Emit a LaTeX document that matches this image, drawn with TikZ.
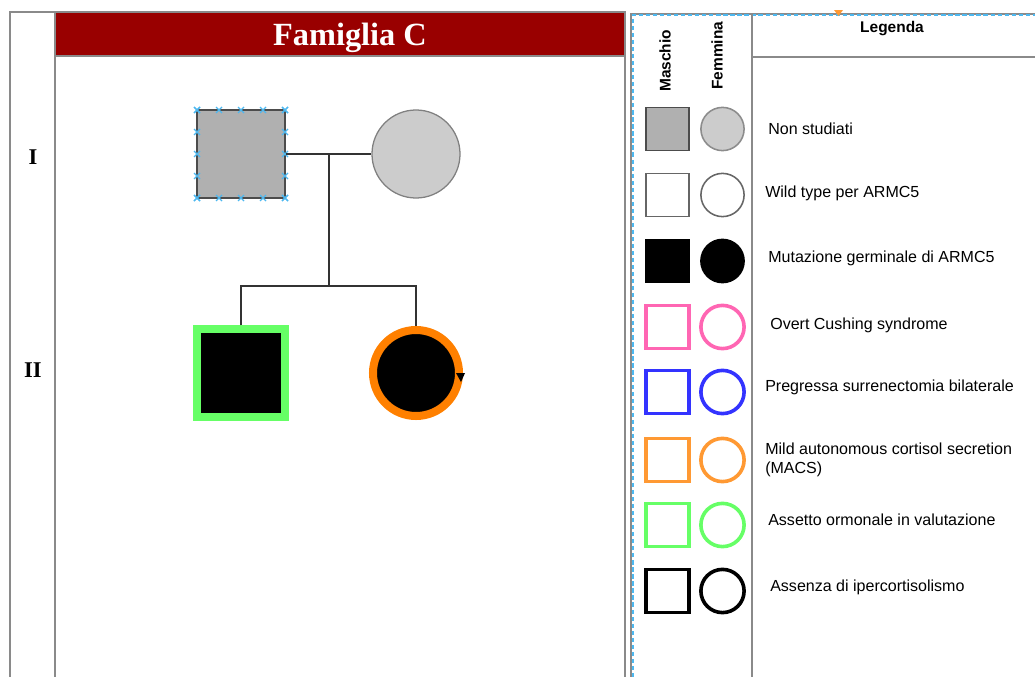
\documentclass[tikz,border=0pt]{standalone}
\usepackage{fontspec}
\setmainfont{Liberation Sans}
\newfontfamily\serifbold{Liberation Serif}
\usetikzlibrary{positioning}

\definecolor{bandred}{HTML}{990000}
\definecolor{framegray}{HTML}{8A8A8A}
\definecolor{nsdark}{HTML}{B0B0B0}
\definecolor{nslight}{HTML}{CCCCCC}
\definecolor{ocspink}{HTML}{FF66B3}
\definecolor{surblue}{HTML}{3333FF}
\definecolor{macsorange}{HTML}{FF9933}
\definecolor{evalgreen}{HTML}{66FF66}
\definecolor{probandorange}{HTML}{FF8000}
\definecolor{selblue}{HTML}{4DB8F0}

\tikzset{
  male/.style={draw, rectangle, inner sep=0pt, minimum size=#1},
  female/.style={draw, circle, inner sep=0pt, minimum size=#1},
  frame/.style={draw=framegray, line width=1.2pt},
  link/.style={draw=black!80, line width=0.8pt},
  legtext/.style={anchor=west, inner sep=0pt, font=\fontsize{11.4}{14}\selectfont, align=left},
  selmark/.style={draw=selblue, line width=1pt},
}

\begin{document}
\begin{tikzpicture}[x=0.025cm, y=-0.025cm]
    \useasboundingbox (0,0) rectangle (1035,677);

    % Pedigree frame.
    \fill[bandred] (55,12) rectangle (625,56);
    \draw[frame] (10,677) -- (10,12) -- (625,12) -- (625,677);
    \draw[frame] (55,677) -- (55,12);
    \draw[frame] (55,56) -- (625,56);
    \node[text=white, font=\serifbold\bfseries\fontsize{23}{27}\selectfont] (title) at (350,38) {Famiglia C};
    \node[font=\serifbold\bfseries\fontsize{16}{19}\selectfont] (genI) at (33,157) {I};
    \node[font=\serifbold\bfseries\fontsize{16}{19}\selectfont] (genII) at (33,370) {II};

    % Generation I.
    \node[male=2.2cm, fill=nsdark, draw=black!70, line width=0.9pt] (father) at (241,154) {};
    \node[female=2.2cm, fill=nslight, draw=black!50, line width=0.9pt] (mother) at (416,154) {};
    \foreach \t in {0,22,44,66,88} {
        \foreach \p in {(197+\t,110), (197+\t,198), (197,110+\t), (285,110+\t)} {
            \path \p coordinate (sel);
            \draw[selmark] (sel) ++(-3,-3) -- ++(6,6) (sel) ++(-3,3) -- ++(6,-6);
        }
    }

    % Generation II.
    \node[male=2.175cm, fill=black, draw=evalgreen, line width=0.2cm] (son) at (241,373) {};
    \node[female=2.15cm, fill=black, draw=probandorange, line width=0.2cm] (daughter) at (416,373) {};
    \fill (456,373) -- (465,373) -- (461,382) -- cycle;

    % Lines of descent.
    \coordinate (union) at (329,154);
    \coordinate (sibs) at (329,286);
    \draw[link] (father.east) -- (mother.west);
    \draw[link] (union) -- (sibs);
    \draw[link] (son.north) |- (sibs);
    \draw[link] (daughter.north) |- (sibs);

    % Legend frame.
    \draw[frame, line width=0.9pt] (631,677) -- (631,14) -- (1035,14);
    \draw[selmark, dashed, dash pattern=on 3pt off 2pt] (633,677) -- (633,15) -- (1035,15);
    \fill[macsorange] (834,10) -- (843,10) -- (838.5,16) -- cycle;
    \draw[frame, line width=0.9pt] (752,14) -- (752,677);
    \draw[frame, line width=0.9pt] (752,57) -- (1035,57);
    \node[font=\bfseries\fontsize{11}{13}\selectfont] (legend) at (892,29) {Legenda};
    \node[rotate=90, anchor=west, inner sep=0pt, font=\bfseries\fontsize{11}{13}\selectfont] (maschio) at (665,92) {Maschio};
    \node[rotate=90, anchor=west, inner sep=0pt, font=\bfseries\fontsize{11}{13}\selectfont] (femmina) at (717,90) {Femmina};

    % Legend rows.
    \foreach \n/\y/\ty/\tx/\fm/\ff/\dm/\df/\lw/\txt in {
        1/129/129/768/nsdark/nslight/black!70/black!45/1.1pt/{Non studiati},
        2/195/193/765/white/white/black!60/black!60/1.1pt/{Wild type per ARMC5},
        3/261/258/768/black/black/black/black/1.1pt/{Mutazione germinale di ARMC5},
        4/327/325/770/white/white/ocspink/ocspink/0.09cm/{Overt Cushing syndrome},
        5/392/387/765/white/white/surblue/surblue/0.09cm/{Pregressa surrenectomia bilaterale},
        6/460/460/765/white/white/macsorange/macsorange/0.09cm/{Mild autonomous cortisol secretion\\(MACS)},
        7/525/520/768/white/white/evalgreen/evalgreen/0.09cm/{Assetto ormonale in valutazione},
        8/591/587/770/white/white/black/black/0.09cm/{Assenza di ipercortisolismo}} {
        \node[male=1.08cm, fill=\fm, draw=\dm, line width=\lw] (lm\n) at (667.5,\y) {};
        \node[female=1.08cm, fill=\ff, draw=\df, line width=\lw] (lf\n) at (722.5,\y) {};
        \node[legtext] (lt\n) at (\tx,\ty) {\txt};
    }
\end{tikzpicture}
\end{document}
